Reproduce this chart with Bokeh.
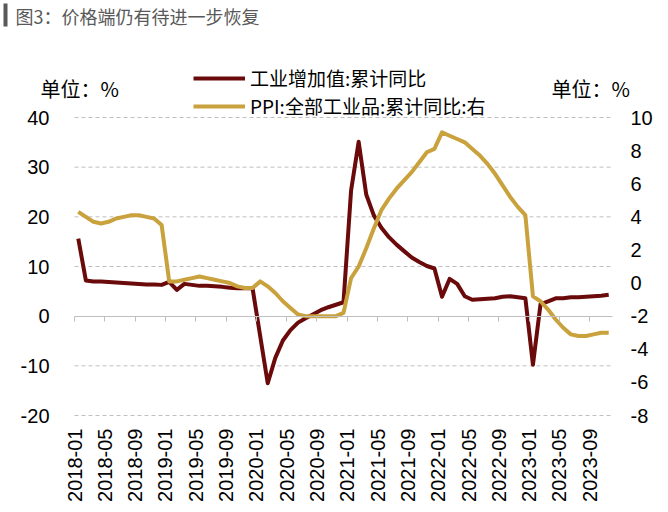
import math
import pandas as pd
from bokeh.plotting import figure
from bokeh.models import (Range1d, LinearAxis, FixedTicker, Label, Legend,
                          LegendItem, BoxAnnotation)
from bokeh.embed import file_html
from bokeh.resources import INLINE

# ---------------- data ----------------
months = [str(p) for p in pd.period_range("2018-01", "2023-11", freq="M")]

iva_cum = [
    15.6, 7.2, 7.0, 7.0, 6.9, 6.8, 6.7, 6.6, 6.5, 6.4, 6.4, 6.3,     # 2018
    6.9, 5.3, 6.5, 6.3, 6.1, 6.1, 6.0, 5.9, 5.7, 5.6, 5.6, 5.6,      # 2019
    None, -13.5, -8.4, -4.9, -2.8, -1.3, -0.4, 0.4, 1.2, 1.8, 2.3, 2.8,  # 2020
    25.3, 35.1, 24.5, 20.3, 17.8, 15.9, 14.4, 13.1, 11.8, 10.9, 10.1, 9.6,  # 2021
    3.9, 7.5, 6.5, 4.0, 3.3, 3.4, 3.5, 3.6, 3.9, 4.0, 3.8, 3.6,      # 2022
    -9.8, 2.4, 3.0, 3.6, 3.6, 3.8, 3.8, 3.9, 4.0, 4.1, 4.3,          # 2023
]

ppi_cum = [
    4.3, 4.0, 3.7, 3.6, 3.7, 3.9, 4.0, 4.1, 4.1, 4.0, 3.9, 3.5,      # 2018
    0.1, 0.1, 0.2, 0.3, 0.4, 0.3, 0.2, 0.1, 0.0, -0.2, -0.3, -0.3,   # 2019
    0.1, -0.2, -0.6, -1.1, -1.5, -1.9, -2.0, -2.0, -2.0, -2.0, -2.0, -1.8,  # 2020
    0.3, 1.0, 2.1, 3.3, 4.4, 5.1, 5.7, 6.2, 6.7, 7.3, 7.9, 8.1,      # 2021
    9.1, 8.9, 8.7, 8.5, 8.1, 7.7, 7.2, 6.6, 5.9, 5.2, 4.6, 4.1,      # 2022
    -0.8, -1.1, -1.6, -2.2, -2.7, -3.1, -3.2, -3.2, -3.1, -3.0, -3.0,  # 2023
]

tick_labels = ["2018-01", "2018-05", "2018-09", "2019-01", "2019-05", "2019-09",
               "2020-01", "2020-05", "2020-09", "2021-01", "2021-05", "2021-09",
               "2022-01", "2022-05", "2022-09", "2023-01", "2023-05", "2023-09"]
left_ticks = [-20, -10, 0, 10, 20, 30, 40]
right_ticks = [-8, -6, -4, -2, 0, 2, 4, 6, 8, 10]

series1_name = "工业增加值:累计同比"
series2_name = "PPI:全部工业品:累计同比:右"
title_text = "图3：价格端仍有待进一步恢复"
unit_text = "单位：%"

# ---------------- layout constants (pixels) ----------------
W, H = 668, 512
PL, PR, PT, PB = 74, 612, 117, 415   # plot area edges on the canvas

base = pd.Period(months[0], freq="M")


def month_index(m):
    return (pd.Period(m, freq="M") - base).n


x_mid = [month_index(m) + 0.5 for m in months]
red_x = [x for x, v in zip(x_mid, iva_cum) if v is not None]
red_y = [v for v in iva_cum if v is not None]
tick_pos = [month_index(t) for t in tick_labels]

x0, x1 = 0, len(months)             # 2018-01 .. 2023-12 start
yl0, yl1 = left_ticks[0], left_ticks[-1]
yr0, yr1 = right_ticks[0], right_ticks[-1]

kx = (x1 - x0) / (PR - PL)
kyl = (yl1 - yl0) / (PB - PT)
kyr = (yr1 - yr0) / (PB - PT)

RED = "#6A0A0A"
GOLD = "#C9A23E"
GRID = "#BFBFBF"
TICK_FONT = "Liberation Sans"
CJK_FONT = "Noto Sans CJK SC"

p = figure(width=W, height=H, output_backend="svg", toolbar_location=None,
           x_range=Range1d(x0 - PL * kx, x1 + (W - PR) * kx),
           y_range=Range1d(yl0 - (H - PB) * kyl, yl1 + PT * kyl),
           min_border=0, title=None, x_axis_type=None, y_axis_type=None)
p.outline_line_color = None
p.background_fill_color = "white"
p.border_fill_color = "white"
p.extra_y_ranges = {"ppi": Range1d(yr0 - (H - PB) * kyr, yr1 + PT * kyr)}
p.xgrid.grid_line_color = None
p.ygrid.grid_line_color = None


def style_axis(ax, standoff):
    ax.axis_line_color = None
    ax.major_tick_line_color = None
    ax.minor_tick_line_color = None
    ax.major_tick_out = 0
    ax.major_tick_in = 0
    ax.major_label_standoff = standoff
    ax.major_label_text_font = TICK_FONT
    ax.major_label_text_font_size = "20px"
    ax.major_label_text_color = "#000000"


# left axis
la = LinearAxis(ticker=FixedTicker(ticks=left_ticks), fixed_location=x0)
la.major_label_overrides = {t: str(t) for t in left_ticks}
style_axis(la, 25)
p.add_layout(la, "left")

# right axis
ra = LinearAxis(y_range_name="ppi", ticker=FixedTicker(ticks=right_ticks), fixed_location=x1)
ra.major_label_overrides = {t: str(t) for t in right_ticks}
style_axis(ra, 18)
p.add_layout(ra, "right")

# bottom axis with month labels
xa = LinearAxis(ticker=FixedTicker(ticks=tick_pos), fixed_location=yl0)
xa.major_label_overrides = {pos: lab for pos, lab in zip(tick_pos, tick_labels)}
style_axis(xa, 13)
xa.major_label_orientation = math.pi / 2
p.add_layout(xa, "below")

# zero axis line with tick marks
za = LinearAxis(ticker=FixedTicker(ticks=tick_pos), fixed_location=0, bounds=(x0, x1))
za.major_label_overrides = {pos: "" for pos in tick_pos}
za.axis_line_color = GRID
za.axis_line_width = 1
za.major_tick_line_color = GRID
za.major_tick_out = 5
za.major_tick_in = 0
za.minor_tick_line_color = None
p.add_layout(za, "below")

# dashed horizontal grid lines (left-axis ticks, except the zero axis)
grid_y = [t for t in left_ticks if t != 0]
p.segment(x0=[x0] * len(grid_y), y0=grid_y, x1=[x1] * len(grid_y), y1=grid_y,
          line_color=GRID, line_width=1, line_dash="4 3")

r1 = p.line(red_x, red_y, line_color=RED, line_width=4, line_join="round")
r2 = p.line(x_mid, ppi_cum, y_range_name="ppi", line_color=GOLD, line_width=4,
            line_join="round")

# legend: one entry per row
for item_label, rend, row_bottom in ((series1_name, r1, 91), (series2_name, r2, 119)):
    lg = Legend(items=[LegendItem(label=item_label, renderers=[rend])],
                location=(193, H - row_bottom), orientation="vertical",
                glyph_width=52, glyph_height=20, label_height=20,
                label_standoff=5, spacing=0, padding=0, margin=0,
                label_text_font=CJK_FONT, label_text_font_size="19px",
                label_text_color="#000000",
                border_line_color=None, background_fill_alpha=0)
    p.add_layout(lg)

# unit labels
for ux in (40, 551):
    p.add_layout(Label(x=ux, y=H - 88, x_units="screen", y_units="screen", text=unit_text,
                       text_font=CJK_FONT, text_font_size="20px", text_color="#000000",
                       text_baseline="middle", text_align="left"))

# title with bar
p.add_layout(Label(x=15, y=H - 15, x_units="screen", y_units="screen", text=title_text,
                   text_font=CJK_FONT, text_font_size="18px", text_color="#595959",
                   text_baseline="middle", text_align="left"))
p.add_layout(BoxAnnotation(left=3, right=7, top=H - 3, bottom=H - 26,
                           left_units="screen", right_units="screen",
                           top_units="screen", bottom_units="screen",
                           fill_color="#595959", fill_alpha=1, line_color=None))

open("out.html", "w").write(file_html(p, INLINE))
